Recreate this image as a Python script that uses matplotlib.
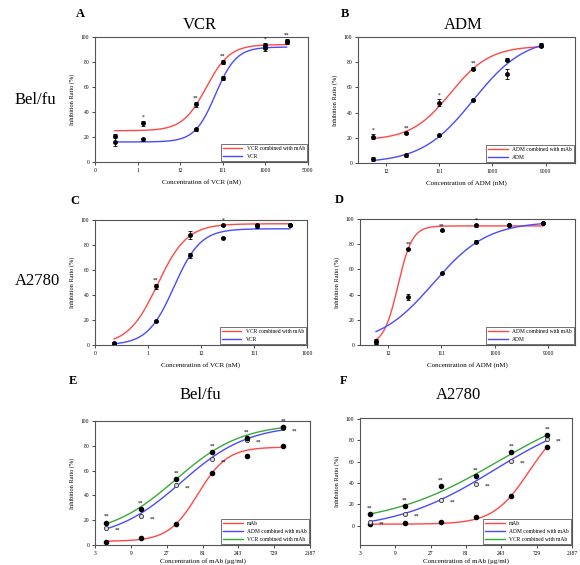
import matplotlib
matplotlib.use('Agg')
import matplotlib.pyplot as plt
import numpy as np

plt.rcParams['font.family'] = ['Liberation Serif', 'DejaVu Serif']

RED = '#ff4848'
BLUE = '#4a4aff'
GREEN = '#3aa83a'

# ---- panel A : VCR on Bel/fu (x in log-tick units) ----
a_ticks = ['0', '1', '12', '111', '1000', '5000']
a_x = [0.47, 1.12, 2.37, 3.0, 4.0, 4.5]
a_comb = [21, 31, 46, 80, 94, 97]
a_comb_err = [1, 2, 2, 1.5, 1.5, 1.5]
a_single = [16, 18, 26, 67, 91, 96]
a_single_err = [3, 1.5, 1, 1.5, 2, 1.5]
a_sig = ['', '*', '**', '**', '*', '**']
a_fit_comb = [25, 94, 2.61, 3.6]      # bottom, top, x50, slope
a_fit_single = [16, 92, 2.83, 4.1]

# ---- panel B : ADM on Bel/fu ----
b_ticks = ['12', '111', '1000', '9000']
b_x = [-0.24, 0.38, 1.0, 1.64, 2.28, 2.92]
b_comb = [21, 24, 48, 75, 82, 94]
b_comb_err = [2, 1, 3, 1.5, 1, 1]
b_single = [3, 6, 22, 50, 71, 93]
b_single_err = [1.5, 1.5, 0.5, 0.5, 4, 1]
b_sig = ['*', '**', '*', '**', '', '']
b_fit_comb = [18, 93, 1.21, 2.7]
b_fit_single = [0, 100, 1.64, 2.06]

# ---- panel C : VCR on A2780 ----
c_ticks = ['0', '1', '12', '111', '1000']
c_x = [0.36, 1.15, 1.79, 2.41, 3.06, 3.68]
c_comb = [1.5, 47, 88, 96, 96, 96]
c_comb_err = [1, 2, 3, 1, 1, 1]
c_single = [1, 19, 72, 86, 95, 96]
c_single_err = [0.5, 1, 2, 0.5, 1, 1]
c_sig = ['', '**', '', '*', '', '']
c_fit_comb = [0, 97, 1.18, 3.6]
c_fit_single = [0, 93, 1.49, 4.0]

# ---- panel D : ADM on A2780 ----
d_ticks = ['12', '111', '1000', '9000']
d_x = [-0.22, 0.38, 1.01, 1.65, 2.27, 2.91]
d_comb = [3, 76, 91, 95, 95, 97]
d_comb_err = [2, 1, 0.5, 1, 0.5, 0.5]
d_single = [2, 38, 57, 82, 95, 97]
d_single_err = [1, 2.5, 0.5, 1, 0.5, 0.5]
d_sig = ['', '**', '**', '*', '', '']
d_fit_comb = [0, 94.5, 0.19, 7.5]
d_fit_single = [0, 98, 0.85, 1.97]

# ---- panels E / F : mAb alone and combined ----
mab_ticks = ['3', '9', '27', '81', '243', '729', '2187']
e_x = [0.31, 1.28, 2.26, 3.27, 4.24, 5.25]
e_mab = [2.5, 6, 17, 58, 72, 80]
e_adm = [14, 23, 48, 69, 85, 94]
e_vcr = [18, 29, 53, 75, 86, 95]
e_sig = ['**', '**', '**', '**', '**', '**']
e_fit_mab = [3, 79, 2.87, 2.44]
e_fit_adm = [4, 97, 2.40, 1.07]
e_fit_vcr = [7, 98, 2.24, 1.08]

f_x = [0.28, 1.27, 2.29, 3.28, 4.28, 5.3]
f_mab = [1.5, 2.5, 4, 8, 28, 74]
f_adm = [3.5, 11, 24, 39, 61, 81]
f_vcr = [11, 18.5, 37, 47, 69, 85]
f_sig = ['**', '**', '**', '**', '**', '**']
f_fit_mab = [1.5, 100, 4.78, 1.98]
f_fit_adm = [-5, 110, 3.81, 0.70]
f_fit_vcr = [0, 120, 3.89, 0.633]


def logistic(x, p):
    bottom, top, x50, k = p
    return bottom + (top - bottom) / (1 + np.exp(-(x - x50) * k))


def setup(ax, ticks, xlim, ylim, xlabel, pad=5):
    ax.set_xlim(*xlim)
    ax.set_ylim(*ylim)
    ax.set_xticks(range(len(ticks)))
    ax.set_xticklabels(ticks)
    ax.set_yticks([0, 20, 40, 60, 80, 100])
    ax.tick_params(labelsize=4, length=2, width=0.5, pad=2)
    ax.set_xlabel(xlabel, fontsize=5, labelpad=pad)
    ax.set_ylabel('Inhibition Ratio (%)', fontsize=4.5, labelpad=4)
    for s in ax.spines.values():
        s.set_linewidth(0.8)
        s.set_color('#555555')


def pair_panel(ax, x, comb, comb_err, single, single_err, sig, fit_c, fit_s, names):
    xs = np.linspace(x[0], x[-1], 200)
    ax.plot(xs, logistic(xs, fit_c), color=RED, lw=1, label=names[0])
    ax.plot(xs, logistic(xs, fit_s), color=BLUE, lw=1, label=names[1])
    ax.errorbar(x, comb, yerr=comb_err, fmt='o', ms=2.5, color='black',
                elinewidth=0.6, capsize=1.5, capthick=0.6)
    ax.errorbar(x, single, yerr=single_err, fmt='o', ms=2.5, color='black',
                elinewidth=0.6, capsize=1.5, capthick=0.6)
    for xi, yi, ei, s in zip(x, comb, comb_err, sig):
        if s:
            ax.text(xi, yi + ei + 1, s, fontsize=4, ha='center', va='bottom')
    leg = ax.legend(loc='lower right', fontsize=4, frameon=True, fancybox=False,
                    borderaxespad=0.15, handlelength=3.5)
    leg.get_frame().set_edgecolor('#333333')
    leg.get_frame().set_linewidth(0.6)


def triple_panel(ax, x, mab, adm, vcr, sig, fit_m, fit_a, fit_v):
    xs = np.linspace(x[0], x[-1], 200)
    ax.plot(xs, logistic(xs, fit_m), color=RED, lw=1, label='mAb')
    ax.plot(xs, logistic(xs, fit_a), color=BLUE, lw=1, label='ADM combined with mAb')
    ax.plot(xs, logistic(xs, fit_v), color=GREEN, lw=1, label='VCR combined with mAb')
    ax.plot(x, mab, 'o', ms=3, color='black')
    ax.plot(x, adm, 'o', ms=3, mfc='#dddddd', mec='#333333', mew=0.6)
    ax.plot(x, vcr, 'o', ms=3, color='black')
    for xi, ya, yv, s in zip(x, adm, vcr, sig):
        ax.text(xi, yv + 3, s, fontsize=4, ha='center', va='bottom')
        ax.text(xi + 0.25, ya - 2, s, fontsize=4, ha='left', va='center')
    leg = ax.legend(loc='lower right', fontsize=4, frameon=True, fancybox=False,
                    borderaxespad=0.15, handlelength=3.5)
    leg.get_frame().set_edgecolor('#333333')
    leg.get_frame().set_linewidth(0.6)


fig = plt.figure(figsize=(5.8, 5.65), dpi=100)

axA = fig.add_axes([0.1638, 0.7133, 0.367, 0.2212])
axB = fig.add_axes([0.6172, 0.7115, 0.374, 0.223])
axC = fig.add_axes([0.1638, 0.3894, 0.3655, 0.2212])
axD = fig.add_axes([0.6207, 0.3894, 0.3707, 0.223])
axE = fig.add_axes([0.1638, 0.0354, 0.3707, 0.2195])
axF = fig.add_axes([0.6207, 0.0354, 0.3655, 0.2248])

pair_panel(axA, a_x, a_comb, a_comb_err, a_single, a_single_err, a_sig,
           a_fit_comb, a_fit_single, ['VCR combined with mAb', 'VCR'])
setup(axA, a_ticks, (0, 5), (0, 100), 'Concentration of VCR (nM)')

pair_panel(axB, b_x, b_comb, b_comb_err, b_single, b_single_err, b_sig,
           b_fit_comb, b_fit_single, ['ADM combined with mAb', 'ADM'])
setup(axB, b_ticks, (-0.53, 3.55), (0, 100), 'Concentration of ADM (nM)')

pair_panel(axC, c_x, c_comb, c_comb_err, c_single, c_single_err, c_sig,
           c_fit_comb, c_fit_single, ['VCR combined with mAb', 'VCR'])
setup(axC, c_ticks, (0, 4), (0, 100), 'Concentration of VCR (nM)')

pair_panel(axD, d_x, d_comb, d_comb_err, d_single, d_single_err, d_sig,
           d_fit_comb, d_fit_single, ['ADM combined with mAb', 'ADM'])
setup(axD, d_ticks, (-0.52, 3.5), (0, 100), 'Concentration of ADM (nM)')

triple_panel(axE, e_x, e_mab, e_adm, e_vcr, e_sig, e_fit_mab, e_fit_adm, e_fit_vcr)
setup(axE, mab_ticks, (0, 6), (0, 100), 'Concentration of mAb (\u03bcg/ml)', pad=2)

triple_panel(axF, f_x, f_mab, f_adm, f_vcr, f_sig, f_fit_mab, f_fit_adm, f_fit_vcr)
setup(axF, mab_ticks, (0, 6), (-18, 101), 'Concentration of mAb (\u03bcg/ml)', pad=2)

# panel letters, titles, row labels (figure pixel coords -> fraction)
W, H = 580.0, 565.0
def ftext(px, py, s, size, **kw):
    fig.text(px / W, 1 - py / H, s, fontsize=size, ha='center', va='center', **kw)

ftext(80, 14, 'A', 9, fontweight='bold')
ftext(345, 14, 'B', 9, fontweight='bold')
ftext(75, 201, 'C', 9, fontweight='bold')
ftext(339, 200, 'D', 9, fontweight='bold')
ftext(73, 381, 'E', 9, fontweight='bold')
ftext(344, 381, 'F', 9, fontweight='bold')
ftext(200, 25, 'VCR', 12)
ftext(463, 25, 'ADM', 12)
ftext(200, 395, 'Bel/fu', 12)
ftext(458, 395, 'A2780', 12)
ftext(35, 100, 'Bel/fu', 12)
ftext(37, 281, 'A2780', 12)

fig.savefig('out.png', dpi=100)
